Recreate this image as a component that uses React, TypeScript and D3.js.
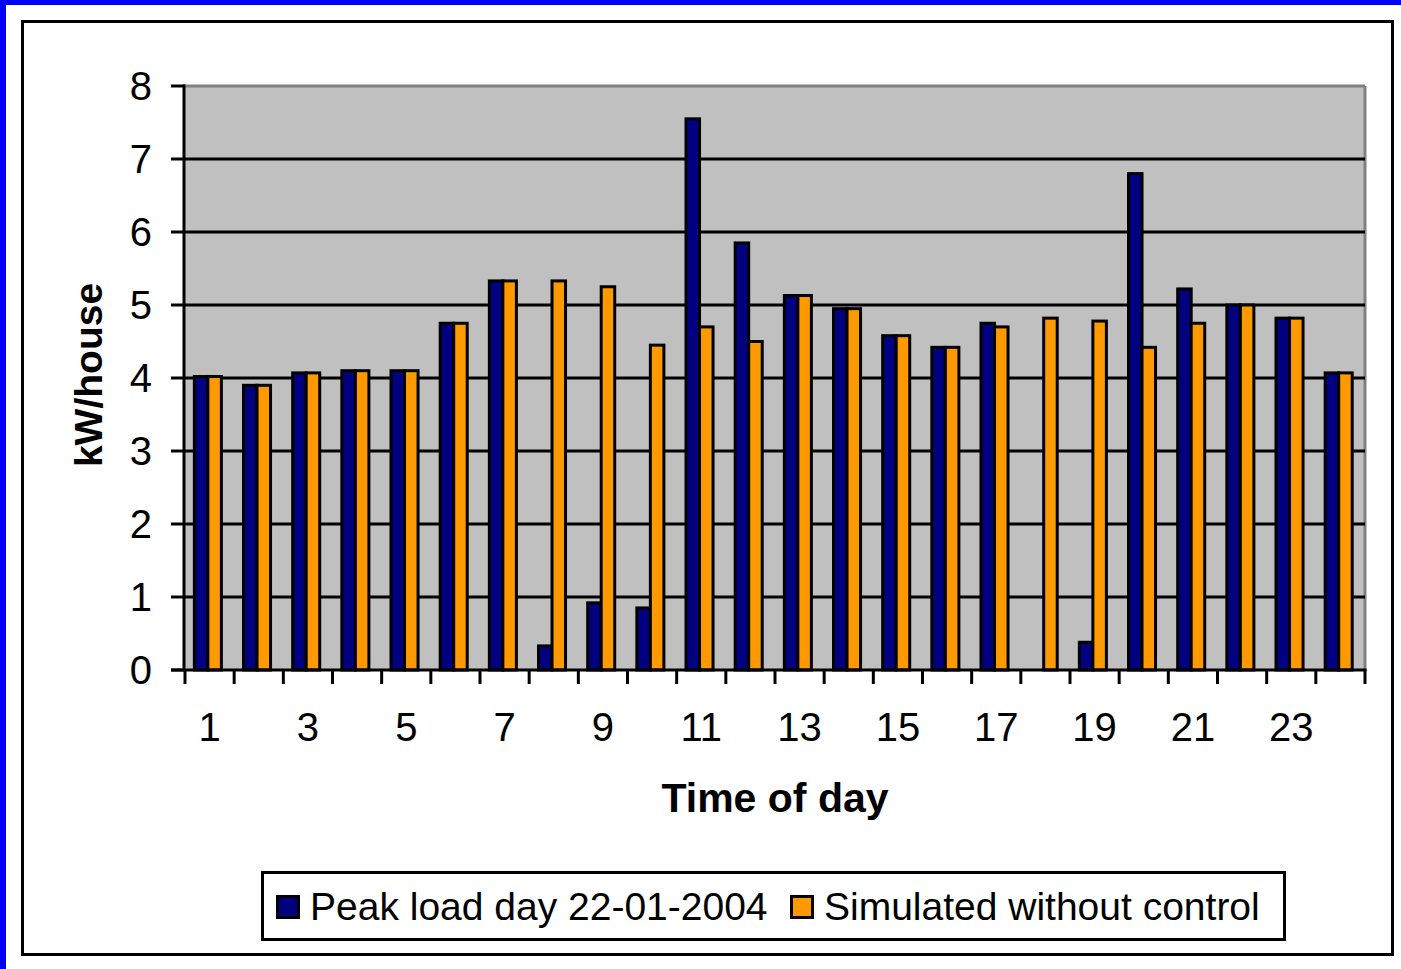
import React from "react";
import * as d3 from "d3";

// hour of day 1..24
const hours = d3.range(1, 25);
const peakLoad = [4.02, 3.9, 4.07, 4.1, 4.1, 4.75, 5.33, 0.33, 0.92, 0.85, 7.55, 5.85, 5.13, 4.95, 4.58, 4.42, 4.75, 0, 0.38, 6.8, 5.22, 5.0, 4.82, 4.07];
const simulated = [4.02, 3.9, 4.07, 4.1, 4.1, 4.75, 5.33, 5.33, 5.25, 4.45, 4.7, 4.5, 5.13, 4.95, 4.58, 4.42, 4.7, 4.82, 4.78, 4.42, 4.75, 5.0, 4.82, 4.07];
const seriesNames = ["Peak load day 22-01-2004", "Simulated without control"];
const seriesColors = ["#000080", "#FF9900"];
const yTicks = [0, 1, 2, 3, 4, 5, 6, 7, 8];
const xTickLabels = hours.filter((h) => h % 2 === 1);

const W = 1401;
const H = 969;
const plot = { left: 185, right: 1365, top: 86, bottom: 670 };
const font = "'Liberation Sans', Arial, sans-serif";

const App = () => {
  const x = d3.scaleBand<number>().domain(hours).range([plot.left, plot.right]);
  const bw = x.bandwidth();
  const x1 = d3.scaleBand<number>().domain([0, 1]).range([bw * 0.19, bw * 0.74]);
  const y = d3.scaleLinear().domain([0, 8]).range([plot.bottom, plot.top]);

  const rows = hours.map((h, i) => ({ h, vals: [peakLoad[i], simulated[i]] }));
  const boundaries = hours.map((h) => x(h)!).concat([plot.right]);

  return (
    <div style={{ position: "absolute", left: 0, top: 0 }}>
      <svg width={W} height={H} style={{ display: "block", background: "#fff" }}>
        {/* blue window edge */}
        <rect x={0} y={0} width={W} height={5} fill="#0000FF" />
        <rect x={0} y={0} width={6} height={H} fill="#0000FF" />
        {/* chart frame */}
        <rect x={22.5} y={21.5} width={1370} height={933} fill="none" stroke="#000" strokeWidth={3} />

        {/* plot area */}
        <rect x={plot.left} y={plot.top} width={plot.right - plot.left} height={plot.bottom - plot.top} fill="#C0C0C0" />
        <line x1={plot.left} x2={plot.right} y1={plot.top} y2={plot.top} stroke="#808080" strokeWidth={3} />
        <line x1={plot.right} x2={plot.right} y1={plot.top} y2={plot.bottom} stroke="#808080" strokeWidth={3} />

        {/* gridlines */}
        {yTicks.filter((t) => t > 0 && t < 8).map((t) => (
          <line key={t} x1={plot.left} x2={plot.right} y1={y(t)} y2={y(t)} stroke="#000" strokeWidth={3} />
        ))}

        {/* bars */}
        {rows.map((r) => (
          <g key={r.h} transform={`translate(${x(r.h)},0)`}>
            {r.vals.map((v, j) =>
              v > 0 ? (
                <rect
                  key={j}
                  x={x1(j)}
                  y={y(v)}
                  width={x1.bandwidth()}
                  height={y(0) - y(v)}
                  fill={seriesColors[j]}
                  stroke="#000"
                  strokeWidth={3}
                />
              ) : null
            )}
          </g>
        ))}

        {/* y axis */}
        <line x1={plot.left - 1} x2={plot.left - 1} y1={plot.top - 1.5} y2={plot.bottom} stroke="#000" strokeWidth={3} />
        {yTicks.map((t) => (
          <g key={t}>
            <line x1={171} x2={plot.left} y1={y(t)} y2={y(t)} stroke="#000" strokeWidth={3} />
            <text x={152} y={y(t)} textAnchor="end" dominantBaseline="central" fontFamily={font} fontSize={40}>
              {t}
            </text>
          </g>
        ))}

        {/* x axis */}
        <line x1={171} x2={plot.right + 1.5} y1={plot.bottom} y2={plot.bottom} stroke="#000" strokeWidth={3} />
        {boundaries.map((b, i) => (
          <line key={i} x1={b} x2={b} y1={plot.bottom} y2={684} stroke="#000" strokeWidth={3} />
        ))}
        {xTickLabels.map((h) => (
          <text key={h} x={x(h)! + bw / 2} y={727} textAnchor="middle" dominantBaseline="central" fontFamily={font} fontSize={40}>
            {h}
          </text>
        ))}

        {/* axis titles */}
        <text x={775} y={798} textAnchor="middle" dominantBaseline="central" fontFamily={font} fontSize={41} fontWeight="bold">
          Time of day
        </text>
        <text
          transform="translate(88,375) rotate(-90)"
          textAnchor="middle"
          dominantBaseline="central"
          fontFamily={font}
          fontSize={39}
          fontWeight="bold"
        >
          kW/house
        </text>

        {/* legend */}
        <rect x={262.5} y={872.5} width={1022} height={67} fill="#fff" stroke="#000" strokeWidth={3} />
        {seriesNames.map((name, i) => {
          const lx = i === 0 ? 276 : 790;
          return (
            <g key={name}>
              <rect x={lx + 1.5} y={896.5} width={21} height={21} fill={seriesColors[i]} stroke="#000" strokeWidth={3} />
              <text x={lx + 34} y={906} dominantBaseline="central" fontFamily={font} fontSize={39}>
                {name}
              </text>
            </g>
          );
        })}
      </svg>
    </div>
  );
};

export default App;
